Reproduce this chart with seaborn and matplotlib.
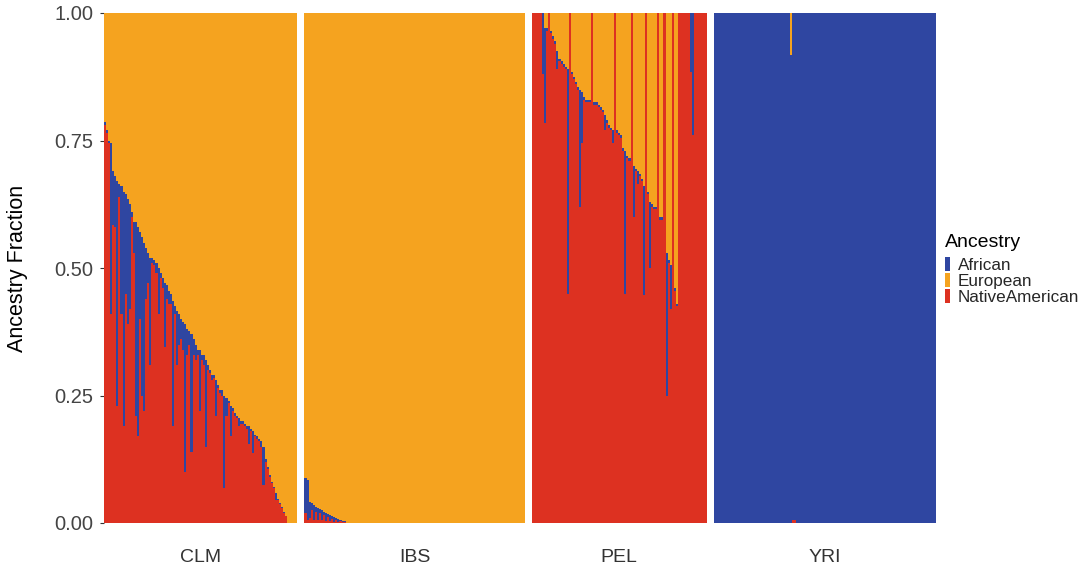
import numpy as np
import pandas as pd
import matplotlib
matplotlib.use("Agg")
import matplotlib.pyplot as plt
from matplotlib.patches import Patch
import seaborn as sns

# Populations (one panel each)
populations = ["CLM", "IBS", "PEL", "YRI"]

# Per-individual ancestry fractions (European = the rest)
clm_native = [0.78, 0.765, 0.745, 0.41, 0.585, 0.58, 0.23, 0.64, 0.41, 0.19,
              0.45, 0.39, 0.42, 0.60, 0.53, 0.21, 0.17, 0.40, 0.25, 0.22,
              0.44, 0.47, 0.31, 0.51, 0.505, 0.49, 0.41, 0.48, 0.46, 0.345,
              0.44, 0.43, 0.43, 0.19, 0.41, 0.31, 0.35, 0.36, 0.34, 0.10,
              0.33, 0.35, 0.14, 0.33, 0.32, 0.33, 0.22, 0.32, 0.31, 0.15,
              0.30, 0.295, 0.28, 0.285, 0.21, 0.265, 0.255, 0.25, 0.068, 0.21,
              0.235, 0.17, 0.22, 0.21, 0.205, 0.19, 0.195, 0.195, 0.19, 0.185,
              0.155, 0.18, 0.137, 0.17, 0.165, 0.16, 0.15, 0.075, 0.12, 0.105,
              0.09, 0.078, 0.068, 0.045, 0.046, 0.038, 0.03, 0.02, 0.013, 0.0,
              0.0, 0.0, 0.0, 0.0]
clm_african = [0.007, 0.005, 0.005, 0.335, 0.105, 0.10, 0.44, 0.025, 0.25, 0.46,
               0.195, 0.245, 0.205, 0.01, 0.06, 0.38, 0.41, 0.17, 0.31, 0.33,
               0.10, 0.06, 0.21, 0.01, 0.01, 0.02, 0.09, 0.01, 0.02, 0.125,
               0.026, 0.025, 0.02, 0.245, 0.015, 0.105, 0.06, 0.04, 0.055, 0.29,
               0.05, 0.027, 0.23, 0.03, 0.03, 0.01, 0.12, 0.01, 0.02, 0.17,
               0.01, 0.005, 0.01, 0.005, 0.07, 0.005, 0.005, 0.01, 0.182, 0.035,
               0.005, 0.06, 0.005, 0.005, 0.005, 0.015, 0.005, 0.005, 0.005, 0.005,
               0.035, 0.005, 0.043, 0.002, 0.005, 0.005, 0.01, 0.075, 0.005, 0.005,
               0.005, 0.002, 0.002, 0.013, 0.002, 0.002, 0.002, 0.002, 0.001, 0.0,
               0.0, 0.0, 0.0, 0.0]

ibs_native = [0.02, 0.005, 0.01, 0.025, 0.005, 0.022, 0.005, 0.02, 0.005, 0.015,
              0.003, 0.012, 0.003, 0.008, 0.002, 0.005, 0.002, 0.003, 0.001, 0.001] + [0.0] * 87
ibs_african = [0.068, 0.08, 0.032, 0.015, 0.03, 0.01, 0.025, 0.008, 0.02, 0.007,
               0.017, 0.006, 0.012, 0.005, 0.009, 0.004, 0.005, 0.002, 0.003, 0.002] + [0.0] * 87

pel_native = [1.0, 1.0, 1.0, 1.0, 1.0, 0.88, 0.785, 0.965, 1.0, 0.96,
              0.95, 0.94, 0.89, 0.905, 0.90, 0.895, 0.89, 0.45, 1.0, 0.88,
              0.87, 0.86, 0.85, 0.62, 0.745, 0.83, 0.825, 0.825, 0.825, 1.0,
              0.82, 0.82, 0.815, 0.81, 0.805, 0.77, 0.785, 0.775, 0.77, 0.745,
              1.0, 0.765, 0.76, 0.755, 0.73, 0.45, 0.715, 0.71, 1.0, 0.60,
              0.69, 0.665, 0.68, 0.67, 0.447, 1.0, 0.645, 0.50, 0.62, 0.615,
              0.615, 1.0, 0.595, 0.595, 1.0, 0.25, 0.51, 0.42, 1.0, 0.455,
              0.425, 1.0, 1.0, 1.0, 1.0, 1.0, 1.0, 0.885, 0.76, 1.0,
              1.0, 1.0, 1.0, 1.0, 1.0]
pel_african = [0.0, 0.0, 0.0, 0.0, 0.0, 0.12, 0.185, 0.005, 0.0, 0.005,
               0.005, 0.005, 0.035, 0.005, 0.005, 0.005, 0.005, 0.44, 0.0, 0.005,
               0.005, 0.005, 0.005, 0.23, 0.10, 0.005, 0.005, 0.005, 0.005, 0.0,
               0.005, 0.005, 0.005, 0.005, 0.005, 0.03, 0.005, 0.005, 0.005, 0.025,
               0.0, 0.005, 0.005, 0.005, 0.005, 0.28, 0.005, 0.005, 0.0, 0.10,
               0.005, 0.025, 0.005, 0.005, 0.213, 0.0, 0.005, 0.13, 0.005, 0.005,
               0.005, 0.0, 0.005, 0.005, 0.0, 0.28, 0.005, 0.085, 0.0, 0.005,
               0.005, 0.0, 0.0, 0.0, 0.0, 0.0, 0.0, 0.115, 0.24, 0.0,
               0.0, 0.0, 0.0, 0.0, 0.0]

yri_native = [0.0] * 38 + [0.005, 0.005] + [0.0] * 68
yri_african = [1.0] * 37 + [0.918, 0.995, 0.995] + [1.0] * 68

native = {"CLM": clm_native, "IBS": ibs_native, "PEL": pel_native, "YRI": yri_native}
african = {"CLM": clm_african, "IBS": ibs_african, "PEL": pel_african, "YRI": yri_african}

ancestries = ["African", "European", "NativeAmerican"]
colors = {"African": "#2F46A1", "European": "#F5A31F", "NativeAmerican": "#DD3121"}

sns.set_theme(style="white")
plt.rcParams["font.family"] = ["Liberation Sans", "DejaVu Sans"]

W, H = 1087, 572
fig = plt.figure(figsize=(W / 100, H / 100), dpi=100)
gs = fig.add_gridspec(1, 4, width_ratios=[len(native[p]) for p in populations],
                      left=104 / W, right=936 / W, top=1 - 13 / H, bottom=1 - 523 / H,
                      wspace=0.0345)

for i, pop in enumerate(populations):
    ax = fig.add_subplot(gs[0, i])
    nat = np.array(native[pop])
    afr = np.array(african[pop])
    eur = 1 - nat - afr
    df = pd.DataFrame({"ind": np.arange(len(nat)),
                       "European": nat + afr + eur,
                       "African": nat + afr,
                       "NativeAmerican": nat})
    # stacked bars: draw cumulative tops from back to front
    for layer in ["European", "African", "NativeAmerican"]:
        sns.barplot(data=df, x="ind", y=layer, color=colors[layer], width=1,
                    saturation=1, linewidth=0, errorbar=None, ax=ax)
    for p in ax.patches:
        p.set_antialiased(False)

    ax.set_xlim(-0.5, len(nat) - 0.5)
    ax.set_ylim(0, 1)
    for s in ax.spines.values():
        s.set_visible(False)
    ax.set_xticks([])
    ax.set_xlabel("")
    ax.set_ylabel("")
    ax.text(0.5, -0.067, pop, transform=ax.transAxes, ha="center", va="center",
            fontsize=14, color="#333333")
    if i == 0:
        ax.set_yticks([0, 0.25, 0.5, 0.75, 1.0])
        ax.set_yticklabels(["0.00", "0.25", "0.50", "0.75", "1.00"])
        ax.tick_params(axis="y", labelsize=14.5, labelcolor="#444444", length=2.75,
                       width=0.8, color="#333333", pad=5, left=True)
    else:
        ax.set_yticks([])

fig.text(18 / W, 1 - 268 / H, "Ancestry Fraction", rotation=90, ha="center",
         va="center", fontsize=15.5, color="black")

# legend: title as its own text, keys stacked without gaps
fig.text(945 / W, 1 - 242 / H, "Ancestry", ha="left", va="center",
         fontsize=14, color="black")
handles = [Patch(facecolor=colors[a], edgecolor="none") for a in ancestries]
fig.legend(handles, ancestries, loc="upper left",
           bbox_to_anchor=(945 / W, 1 - 257 / H), frameon=False, fontsize=12.3,
           handlelength=0.3, handleheight=0.9, handletextpad=0.45,
           labelspacing=0.0, borderpad=0, borderaxespad=0)

fig.savefig("out.png", dpi=100)
